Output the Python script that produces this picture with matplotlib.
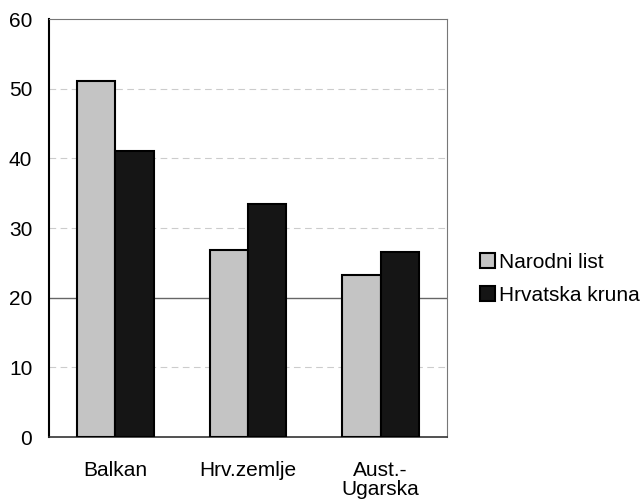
import matplotlib
matplotlib.use("Agg")
import matplotlib.pyplot as plt
import numpy as np

plt.rcParams['font.family'] = ['Liberation Sans', 'DejaVu Sans']

categories = ["Balkan", "Hrv.zemlje", "Aust.-\nUgarska"]
series_names = ["Narodni list", "Hrvatska kruna"]
narodni_list = [51.1, 26.8, 23.2]
hrvatska_kruna = [41.1, 33.5, 26.5]
yticks = [0, 10, 20, 30, 40, 50, 60]

fig = plt.figure(figsize=(6.43, 5.03), dpi=100)
ax = fig.add_axes([0.0762, 0.131, 0.619, 0.831])

x = np.arange(len(categories))
w = 0.29
b1 = ax.bar(x - w/2, narodni_list, w, color="#c4c4c4", edgecolor="black", linewidth=1.5, label=series_names[0], zorder=3)
b2 = ax.bar(x + w/2, hrvatska_kruna, w, color="#151515", edgecolor="black", linewidth=1.5, label=series_names[1], zorder=3)

ax.set_xlim(-0.5, 2.5)
ax.set_ylim(0, 60)
ax.set_yticks(yticks)
ax.set_xticks(x)
ax.set_xticklabels(categories, fontsize=15, linespacing=1.05)
ax.tick_params(axis='y', labelsize=15, length=0, pad=12)
ax.tick_params(axis='x', length=0, pad=17)

for v in yticks[1:-1]:
    if v == 20:
        ax.axhline(v, color="#666666", linewidth=1.0, zorder=1)
    else:
        ax.axhline(v, color="#cccccc", linewidth=0.8, linestyle=(0, (6, 4)), zorder=1)

ax.spines['left'].set_color('black')
ax.spines['left'].set_linewidth(1.5)
ax.spines['bottom'].set_color('#333333')
ax.spines['bottom'].set_linewidth(1.2)
ax.spines['top'].set_color('#777777')
ax.spines['top'].set_linewidth(0.8)
ax.spines['top'].set_linestyle((0, (2, 1)))
ax.spines['right'].set_color('#777777')
ax.spines['right'].set_linewidth(0.8)
ax.spines['right'].set_linestyle((0, (2, 1)))

fig.legend(handles=[b1, b2], loc='center left', bbox_to_anchor=(0.7465, 0.4453),
           frameon=False, fontsize=15, handlelength=0.72, handleheight=0.72,
           handletextpad=0.2, borderpad=0, borderaxespad=0, labelspacing=0.68)

fig.savefig("out.png", dpi=100)
